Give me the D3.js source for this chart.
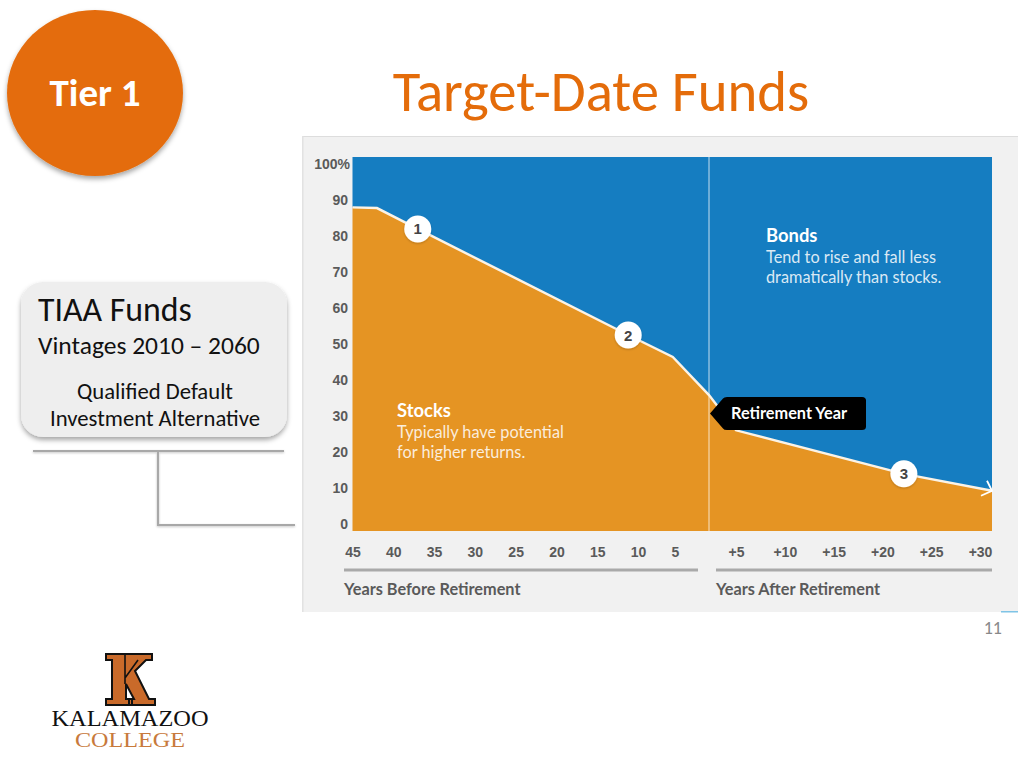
<!DOCTYPE html>
<html>
<head>
<meta charset="utf-8">
<script src="https://cdn.jsdelivr.net/npm/d3@7"></script>
<style>
html,body{margin:0;padding:0;background:#fff}
svg{display:block}
text{font-family:Carlito,Lato,sans-serif}
.ui{font-family:Lato,"Noto Sans",sans-serif}
.tick-l{font-family:"Liberation Sans",Arial,sans-serif;font-weight:bold;font-size:14px;fill:#5a5a5a}
</style>
</head>
<body>
<div id="chart"></div>
<script>
// Data
const yearsToRetirement = [-45, -42, -37, -11.2, -5.3, 0, 5, 22.2, 31.3];
const stockShare        = [88, 87.8, 82, 52.5, 46.4, 35.8, 26, 13.9, 9.2];
const markerLabels = ["1", "2", "3"];
const markerYears  = [-37, -11.2, 22.2];
const markerShares = [82, 52.5, 13.9];
const yTicks = [0,10,20,30,40,50,60,70,80,90,100];
const beforeTicks = [-45,-40,-35,-30,-25,-20,-15,-10,-5];
const afterTicks = [5,10,15,20,25,30];
const stockNotes = ["Typically have potential","for higher returns."];
const bondNotes = ["Tend to rise and fall less","dramatically than stocks."];

const svg = d3.select("#chart").append("svg").attr("width",1024).attr("height",768);
const defs = svg.append("defs");
function shadow(id,dy,blur,op){
  const f = defs.append("filter").attr("id",id).attr("x","-20%").attr("y","-20%").attr("width","140%").attr("height","140%");
  f.append("feDropShadow").attr("dx",0).attr("dy",dy).attr("stdDeviation",blur).attr("flood-color","#000").attr("flood-opacity",op);
}
shadow("s1",3,2.5,0.35);
shadow("s2",1,1.2,0.22);

// Slide furniture
svg.append("ellipse").attr("cx",95).attr("cy",93).attr("rx",88).attr("ry",83).attr("fill","#e46c0a").attr("filter","url(#s1)");
svg.append("text").attr("x",95).attr("y",106).attr("text-anchor","middle").attr("fill","#fff")
  .attr("font-weight","bold").attr("font-size",39).text("Tier 1");
svg.append("text").attr("x",601).attr("y",111).attr("text-anchor","middle").attr("fill","#e46c0a")
  .attr("font-size",56.7).text("Target-Date Funds");

// Panel behind the chart
svg.append("rect").attr("x",302).attr("y",136).attr("width",716).attr("height",476).attr("fill","#f1f1f1");
svg.append("rect").attr("x",302).attr("y",136).attr("width",716).attr("height",1).attr("fill","#dddddd");
svg.append("rect").attr("x",302).attr("y",136).attr("width",1.5).attr("height",476).attr("fill","#e2e2e2");
svg.append("rect").attr("x",1001).attr("y",611).attr("width",17).attr("height",1.5).attr("fill","#7fc4e6");

// Scales: the picture uses different spacing either side of retirement
const x = d3.scaleLinear().domain([-45,-10,-5,0,5,30,31.3]).range([352.5,638,675,709,736,980,992]);
const y = d3.scaleLinear().domain([-2,102]).range([531,157]);
const series = yearsToRetirement.map((t,i)=>({t,v:stockShare[i]}));

svg.append("path").datum(series).attr("fill","#157dc1")
  .attr("d",d3.area().x(d=>x(d.t)).y0(y(102)).y1(d=>y(d.v)));
svg.append("path").datum(series).attr("fill","#e59423")
  .attr("d",d3.area().x(d=>x(d.t)).y0(y(-2)).y1(d=>y(d.v)));
svg.append("line").attr("x1",x(0)).attr("x2",x(0)).attr("y1",y(102)).attr("y2",y(-2))
  .attr("stroke","#fff").attr("stroke-opacity",0.75).attr("stroke-width",1);
svg.append("path").datum(series).attr("fill","none").attr("stroke","#fbf3e6").attr("stroke-width",2.4)
  .attr("d",d3.line().x(d=>x(d.t)).y(d=>y(d.v)));

// Arrow head at the end of the line
const ex = x(yearsToRetirement.at(-1)), ey = y(stockShare.at(-1));
svg.append("path").attr("fill","none").attr("stroke","#fff").attr("stroke-width",1.8)
  .attr("d",`M${ex-11},${ey+5} L${ex},${ey} L${ex-5},${ey-10}`);

// Numbered markers
const m = svg.append("g").selectAll("g").data(markerLabels).join("g")
  .attr("transform",(d,i)=>`translate(${x(markerYears[i])},${y(markerShares[i])})`);
m.append("circle").attr("r",13.5).attr("fill","#fff").attr("filter","url(#s2)");
m.append("text").attr("y",5.5).attr("text-anchor","middle").attr("class","tick-l").style("font-size","15px").style("fill","#444").text(d=>d);

// Retirement tag
const tx = x(0)+1, ty = 413.5;
svg.append("path").attr("fill","#000")
  .attr("d",`M${tx},${ty} L${tx+13},${ty-15} Q${tx+14},${ty-16.5} ${tx+17},${ty-16.5} H${tx+152} Q${tx+156},${ty-16.5} ${tx+156},${ty-13} V${ty+13} Q${tx+156},${ty+16.5} ${tx+152},${ty+16.5} H${tx+17} Q${tx+14},${ty+16.5} ${tx+13},${ty+15} Z`);
svg.append("text").attr("x",731).attr("y",418.5).attr("class","ui").attr("fill","#fff")
  .attr("font-weight","bold").attr("font-size",16.3).text("Retirement Year");

// Axes
const gy = svg.append("g").attr("transform","translate(348,1)")
  .call(d3.axisLeft(y).tickValues(yTicks).tickSize(0).tickPadding(0).tickFormat(d=>d===100?"100%":d));
const gb = svg.append("g").attr("transform","translate(0,553)")
  .call(d3.axisBottom(x).tickValues(beforeTicks).tickSize(0).tickPadding(0).tickFormat(d=>-d));
const ga = svg.append("g").attr("transform","translate(0,553)")
  .call(d3.axisBottom(x).tickValues(afterTicks).tickSize(0).tickPadding(0).tickFormat(d=>"+"+d));
[gy,gb,ga].forEach(g=>{
  g.select(".domain").remove();
  g.attr("font-family",null).attr("font-size",null);
  g.selectAll("text").attr("class","tick-l").attr("dy",null).attr("y",null).attr("dominant-baseline","middle");
});
gy.selectAll("text").attr("x",0);
gy.select(".tick:last-of-type text").attr("x",2);

// Axis brackets
svg.append("rect").attr("x",344).attr("y",568.5).attr("width",354).attr("height",3).attr("fill","#a9a9a9");
svg.append("rect").attr("x",716).attr("y",568.5).attr("width",276).attr("height",3).attr("fill","#a9a9a9");
svg.append("text").attr("x",344).attr("y",595).attr("class","ui").attr("fill","#5a5a5a").attr("font-weight","bold").attr("font-size",16.3).text("Years Before Retirement");
svg.append("text").attr("x",716).attr("y",595).attr("class","ui").attr("fill","#5a5a5a").attr("font-weight","bold").attr("font-size",16.3).text("Years After Retirement");

// In-chart notes
function note(px,py,head,lines){
  svg.append("text").attr("x",px).attr("y",py).attr("class","ui").attr("fill","#fff").attr("font-weight","bold").attr("font-size",18.4).text(head);
  lines.forEach((l,i)=>svg.append("text").attr("x",px).attr("y",py+21+i*20).attr("class","ui").attr("fill","#fff").attr("fill-opacity",0.85).attr("font-size",16.3).text(l));
}
note(397,417,"Stocks",stockNotes);
note(766,242,"Bonds",bondNotes);

// Left callout
svg.append("rect").attr("x",21).attr("y",282).attr("width",266).attr("height",155).attr("rx",22).attr("fill","#eeeeee").attr("filter","url(#s1)");
svg.append("text").attr("x",38).attr("y",321).attr("fill","#111").attr("font-size",33.8).text("TIAA Funds");
svg.append("text").attr("x",38).attr("y",354).attr("fill","#111").attr("font-size",25.5).text("Vintages 2010 – 2060");
svg.append("text").attr("x",155).attr("y",399).attr("text-anchor","middle").attr("fill","#111").attr("font-size",22.7).text("Qualified Default");
svg.append("text").attr("x",155).attr("y",426).attr("text-anchor","middle").attr("fill","#111").attr("font-size",22.7).text("Investment Alternative");
svg.append("path").attr("fill","none").attr("stroke","#a8a8a8").attr("stroke-width",2.2).attr("filter","url(#s2)")
  .attr("d","M33,451 H284 M158,451 V525 H295");

// Page number
svg.append("text").attr("x",1002).attr("y",634).attr("text-anchor","end").attr("fill","#898989").attr("font-size",18).text("11");

// Logo
svg.append("path").attr("fill","#c96a2a").attr("stroke","#111").attr("stroke-width",2).attr("stroke-linejoin","miter")
  .attr("d","M106,654 H152 V660 H146 L135,671 L149,699 H155 V705 H129 V699 H134 L126,684 V699 H132 V705 H106 V699 H112 V660 H106 Z");
svg.append("path").attr("fill","none").attr("stroke","#111").attr("stroke-width",1.6).attr("d","M125,655 V684 M125,678 L138,660");
svg.append("text").attr("x",130).attr("y",726).attr("text-anchor","middle").attr("textLength",157).attr("lengthAdjust","spacingAndGlyphs")
  .style("font-family","'Liberation Serif',serif").attr("fill","#111").attr("font-size",24).text("KALAMAZOO");
svg.append("text").attr("x",130).attr("y",747).attr("text-anchor","middle").attr("textLength",110).attr("lengthAdjust","spacingAndGlyphs")
  .style("font-family","'Liberation Serif',serif").attr("fill","#c87a3c").attr("font-size",22).text("COLLEGE");
</script>
</body>
</html>
